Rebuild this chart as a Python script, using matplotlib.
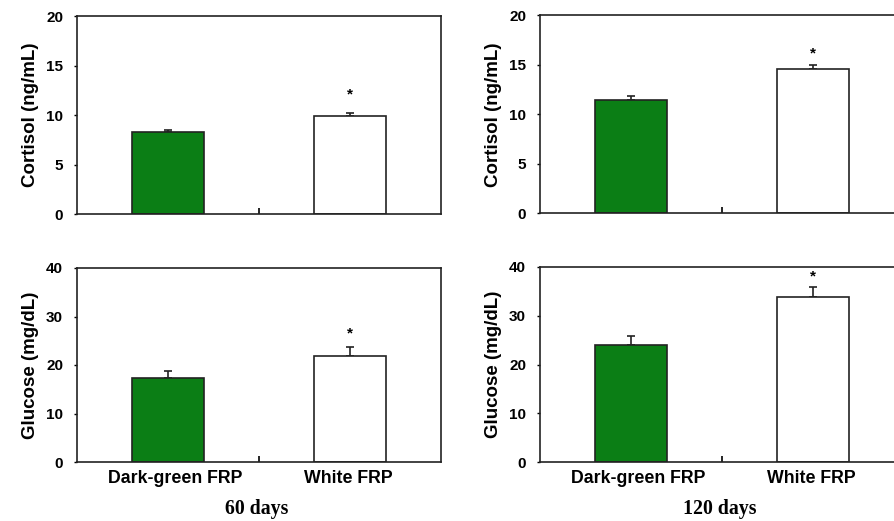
import numpy as np
import matplotlib.pyplot as plt

plt.rcParams["font.family"] = ["Liberation Sans", "DejaVu Sans"]

groups = ["Dark-green FRP", "White FRP"]
colors = ["#0b7e15", "white"]

cortisol_60 = [8.3, 9.85]
cortisol_60_err = [0.2, 0.4]
cortisol_120 = [11.45, 14.55]
cortisol_120_err = [0.45, 0.5]

glucose_60 = [17.3, 21.8]
glucose_60_err = [1.5, 2.0]
glucose_120 = [24.0, 33.8]
glucose_120_err = [1.8, 2.2]

star_pos = {"c60": 12.1, "c120": 16.2, "g60": 26.6, "g120": 38.0}

fig = plt.figure(figsize=(8.95, 5.21), dpi=100)

W = 364 / 895
ax_tl = fig.add_axes([77 / 895, 1 - 214 / 521, W, 198 / 521])
ax_tr = fig.add_axes([540 / 895, 1 - 213.5 / 521, W, 198 / 521])
ax_bl = fig.add_axes([77 / 895, 1 - 462 / 521, W, 194 / 521])
ax_br = fig.add_axes([540 / 895, 1 - 462 / 521, W, 195 / 521])

panels = [
    (ax_tl, cortisol_60, cortisol_60_err, "Cortisol (ng/mL)", 20, 5, star_pos["c60"]),
    (ax_tr, cortisol_120, cortisol_120_err, "Cortisol (ng/mL)", 20, 5, star_pos["c120"]),
    (ax_bl, glucose_60, glucose_60_err, "Glucose (mg/dL)", 40, 10, star_pos["g60"]),
    (ax_br, glucose_120, glucose_120_err, "Glucose (mg/dL)", 40, 10, star_pos["g120"]),
]

x = np.arange(len(groups))
for ax, vals, errs, ylab, ymax, step, star in panels:
    ax.bar(x, vals, width=0.4, color=colors, edgecolor="#222222", lw=1.2, zorder=2)
    ax.errorbar(x, vals, yerr=[np.zeros(2), errs], fmt="none", ecolor="#222222",
                elinewidth=1.2, capsize=2.6, capthick=1.2, zorder=1)
    ax.text(1, star, "*", ha="center", va="center", fontsize=11, fontweight="bold")
    ax.set_xlim(-0.5, 1.5)
    ax.set_ylim(0, ymax)
    ax.set_yticks(np.arange(0, ymax + 1, step))
    ax.tick_params(axis="y", length=2, width=1, labelsize=11, pad=8)
    for lbl in ax.get_yticklabels():
        lbl.set_fontweight("bold")
    ax.set_xticks([0.5])
    ax.tick_params(axis="x", direction="in", length=4, width=1.2)
    ax.set_xticklabels([])
    ax.set_ylabel(ylab, fontsize=13.5, fontweight="bold", labelpad=5)
    for sp in ax.spines.values():
        sp.set_color("#222222")
        sp.set_linewidth(1.2)

for ax, days in [(ax_bl, "60 days"), (ax_br, "120 days")]:
    for xi, g, dx in zip(x, groups, [0.04, -0.01]):
        ax.text(xi + dx, -0.085, g, transform=ax.get_xaxis_transform(), ha="center",
                va="center", fontsize=12.8, fontweight="bold")
    ax.text(0.49, -0.24, days, transform=ax.get_xaxis_transform(), ha="center",
            va="center", fontsize=14.3, fontweight="bold", family="Liberation Serif")

fig.savefig("out.png", dpi=100)
